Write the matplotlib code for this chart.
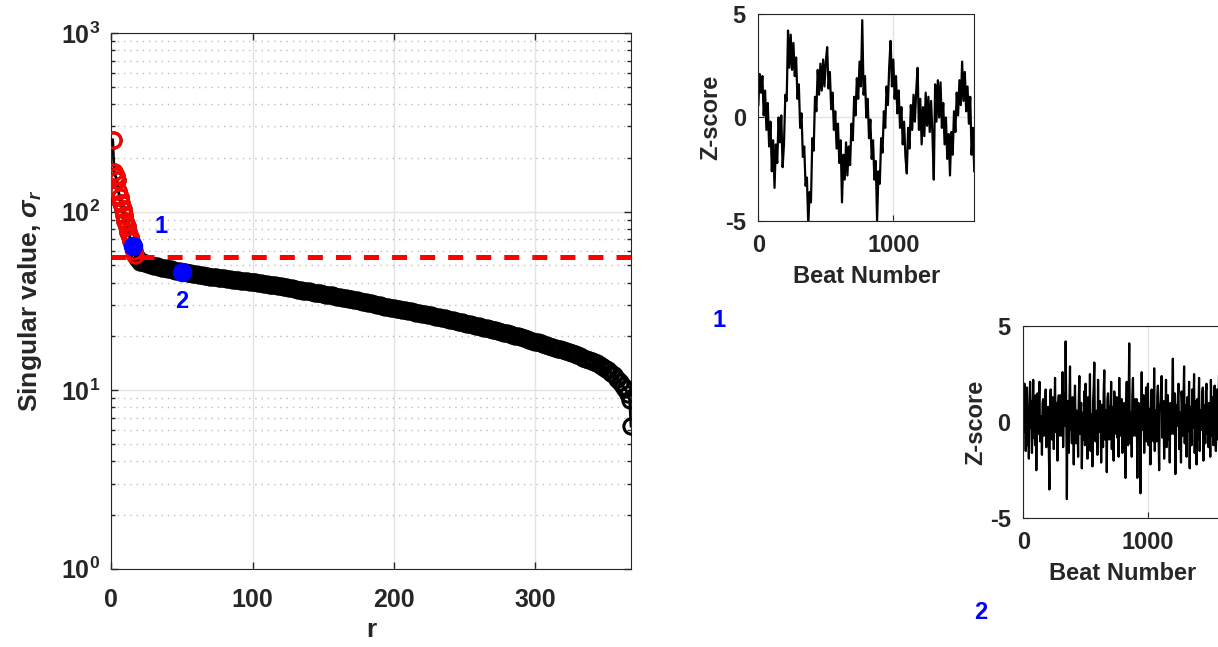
import numpy as np
import matplotlib
matplotlib.use("Agg")
from matplotlib import pyplot as plt
from matplotlib import ticker

# singular values
red_r = list(range(1, 18))
red_s = [252, 166, 158, 150, 130, 120, 111, 103, 96, 89, 83, 77, 72, 68, 64, 60, 57]

tail_r = [18, 19] + list(range(20, 367, 2)) + [367, 368]
tail_s = [55.2, 54.0,
    52.5, 51.9, 51.3, 50.8, 50.3, 49.8, 49.4, 49.0, 48.6, 48.2,
    47.8, 47.4, 47.0, 46.6, 46.3, 46.0, 45.7, 45.4, 45.1, 44.8,
    44.5, 44.2, 44.0, 43.7, 43.5, 43.2, 43.0, 42.8, 42.6, 42.4,
    42.2, 42.0, 41.8, 41.6, 41.4, 41.2, 41.0, 40.8, 40.7, 40.5,
    40.3, 40.1, 39.9, 39.7, 39.5, 39.2, 39.0, 38.8, 38.6, 38.3,
    38.1, 37.8, 37.6, 37.3, 37.1, 36.8, 36.6, 36.3, 36.1, 35.9,
    35.7, 35.4, 35.2, 35.0, 34.8, 34.5, 34.3, 34.1, 33.9, 33.6,
    33.4, 33.2, 33.0, 32.7, 32.5, 32.2, 32.0, 31.8, 31.6, 31.3,
    31.1, 30.8, 30.6, 30.3, 30.1, 29.9, 29.7, 29.4, 29.2, 29.0,
    28.8, 28.6, 28.4, 28.2, 28.0, 27.8, 27.6, 27.4, 27.2, 27.0,
    26.8, 26.6, 26.4, 26.2, 26.0, 25.8, 25.6, 25.4, 25.2, 25.0,
    24.8, 24.6, 24.4, 24.2, 24.0, 23.8, 23.6, 23.4, 23.2, 23.0,
    22.8, 22.6, 22.4, 22.2, 22.0, 21.8, 21.6, 21.4, 21.2, 21.0,
    20.8, 20.6, 20.4, 20.2, 20.0, 19.8, 19.6, 19.4, 19.2, 18.9,
    18.7, 18.5, 18.3, 18.1, 17.9, 17.7, 17.5, 17.3, 17.1, 16.9,
    16.7, 16.5, 16.3, 16.1, 15.9, 15.7, 15.5, 15.2, 15.0, 14.8,
    14.6, 14.4, 14.1, 13.8, 13.5, 13.2, 12.9, 12.5, 12.1, 11.6,
    11.1, 10.6, 10.1, 9.5,
    8.8, 6.3]
black_r = red_r + tail_r
black_s = red_s + tail_s
threshold = 55.6
picked_r = [15, 50]
picked_s = [64, 46]
picked_lbl = ["1", "2"]

# z-scored beat series for the two picked modes
mode1 = [0.6, 2.1, 1.2, 2.0, 0.1, 1.3, -0.6, 0.7, -1.4, -0.2,
         -2.6, -1.1, -3.4, -1.3, -2.2, 0.0, -1.2, 0.1, -2.4, -1.3,
         1.1, 0.8, 4.2, 2.4, 4.0, 2.3, 3.6, 2.0, 2.9, 0.9,
         1.6, -0.5, 0.2, -1.9, -1.4, -3.3, -2.9, -5.2, -3.6, -4.1,
         -1.0, -1.6, 1.0, 0.3, 2.3, 1.1, 2.6, 1.3, 2.8, 1.5,
         2.7, 3.4, 1.4, 2.2, 0.4, 1.2, -0.6, 0.3, -1.5, -0.3,
         -2.2, -1.1, -4.1, -1.8, -3.0, -1.2, -2.8, -1.4, -2.3, -0.3,
         -1.1, 1.0, 0.1, 1.9, 0.9, 2.7, 1.5, 4.7, 1.1, 2.0,
         0.0, 0.9, -1.0, -0.1, -2.0, -1.1, -3.0, -2.1, -5.0, -2.6,
         -3.2, -1.0, -1.7, 0.3, -0.5, 1.5, 0.6, 2.5, 3.7, 1.5,
         2.8, 0.9, 2.0, 0.2, 1.3, -0.5, 0.5, -1.3, -0.2, -1.9,
         -2.7, -0.5, -1.5, 0.6, -0.6, 1.1, -0.2, 1.3, 2.4, -0.6,
         0.9, -1.3, 0.5, -0.9, 1.2, -0.4, 1.0, -0.7, 0.8, -0.8,
         -3.0, 1.6, -0.2, 1.8, 0.0, 1.7, -0.5, 0.7, -1.3, 0.0,
         -2.0, -0.8, -2.8, -0.7, -1.8, 0.3, -0.7, 1.2, 0.1, 1.8,
         0.6, 2.7, 0.8, 2.2, 0.3, 1.5, -0.3, 1.0, -1.8, -0.5, -2.6]
mode1_step = 10
mode2 = [1.2, -0.5, 2.0, 0.3, -1.5, 0.8, 1.8, -1.2, 0.4, -1.9,
         0.9, 2.1, -0.3, 1.1, -1.6, 0.2, 2.2, -0.8, 0.6, -1.2,
         1.4, -2.5, 0.5, 1.5, -0.6, 0.9, 2.1, -1.0, -0.1, 0.3,
         -1.7, 1.0, 1.2, -0.7, -0.2, 0.6, 1.7, -1.3, 0.2, -0.9,
         0.8, -1.4, -3.5, 0.7, 1.7, -0.4, -0.9, 1.3, 0.8, -1.4,
         0.3, 2.3, -0.5, 1.0, 0.1, -2.0, 0.9, 1.4, -0.7, 0.5,
         1.4, -0.7, 0.3, 2.6, -1.3, 0.8, 1.5, -0.2, 4.2, 0.6,
         -4.0, 1.1, -0.6, -1.6, 0.9, 2.9, -0.4, 0.5, -1.1, 1.3,
         0.7, -2.2, 0.4, 1.9, -0.5, -1.1, 0.6, 0.2, -1.8, 1.0,
         2.4, -0.6, 0.3, 1.0, -2.4, 0.1, 0.5, -0.9, 1.6, -1.2,
         2.0, 0.4, -0.3, -1.9, 1.3, 0.7, -0.8, 2.5, -1.5, 0.2,
         0.4, -2.3, 1.1, 1.8, 3.1, -0.6, -1.0, 0.3, 0.6, -1.7,
         2.2, -0.2, -0.5, 1.1, 0.4, -2.1, 0.9, 0.1, -1.3, 1.5,
         2.7, -0.9, -0.2, 0.6, -2.6, 1.2, 1.5, -0.4, -0.9, 0.8,
         0.3, 2.1, -1.4, 0.2, 0.8, -2.0, 1.6, 0.5, -0.6, 1.2,
         1.3, -0.8, 0.5, -1.8, 2.3, -0.3, -0.7, 1.0, 1.2, -1.6,
         0.6, -1.4, 1.0, 0.3, -2.9, 0.8, 2.1, -0.6, -1.2, 0.9,
         4.1, -1.1, 0.2, 0.5, -1.8, 1.4, 2.3, -0.7, 0.1, 1.2,
         -0.7, 0.4, 1.2, -2.9, 0.6, 1.0, -0.4, 0.8, -3.7, 0.2,
         2.6, -0.4, 0.9, 1.4, -1.6, 0.3, 0.2, 1.8, -1.0, -0.5,
         2.0, -1.2, 0.3, 0.7, -2.2, 1.1, 1.7, -0.3, 0.2, -1.0,
         2.8, -1.5, 0.6, 0.4, -1.0, 1.3, 1.9, -0.6, -2.5, 0.9,
         0.6, 1.7, 2.4, -0.8, -0.2, 1.1, -1.9, 0.5, 0.3, 2.2,
         -1.3, 0.2, 1.4, -0.9, 0.7, -2.1, 1.0, 0.4, -0.6, 1.5,
         3.3, -0.6, -0.2, 1.5, -2.7, 0.4, 0.9, -0.2, 1.3, 2.0,
         -1.4, 0.5, 0.1, -2.1, 1.6, 0.8, -0.7, 1.0, 2.9, -1.1,
         0.2, 0.9, -1.8, 1.3, 0.4, -0.5, 2.1, -2.4, 0.7, 0.8,
         -1.2, 1.7, -0.3, 0.6, 2.5, -1.6, 0.4, 1.1, -2.2, 1.2,
         -0.9, 0.3, 2.3, -1.5, 0.6, -0.1, -0.4, 1.4, 1.8, -2.0,
         0.9, 0.2, -1.1, 1.6, 2.0, -0.6, 0.4, -1.3, 1.0, 0.3,
         -1.8, 2.2, 0.5, -0.7, 1.3, -1.2, 0.8, 1.9, -0.4, -1.5,
         0.6, 1.7, -0.9, 0.2, 2.4, -1.7, 0.7, 1.1, -0.8, 0.3,
         1.0]
mode2_step = 5

TXT = "#262626"
plt.rcParams["font.family"] = ["Liberation Sans", "DejaVu Sans"]
plt.rcParams["font.weight"] = "bold"
plt.rcParams["axes.labelweight"] = "bold"
plt.rcParams["axes.unicode_minus"] = False
plt.rcParams["mathtext.fontset"] = "custom"
plt.rcParams["mathtext.rm"] = "Liberation Sans:bold"
plt.rcParams["mathtext.bf"] = "Liberation Sans:bold"
plt.rcParams["mathtext.it"] = "Liberation Sans:italic"
plt.rcParams["lines.scale_dashes"] = False
plt.rcParams["text.color"] = TXT
plt.rcParams["axes.labelcolor"] = TXT
plt.rcParams["xtick.color"] = TXT
plt.rcParams["ytick.color"] = TXT

fig = plt.figure(figsize=(12.18, 6.47), dpi=100)

# main singular value spectrum
ax = fig.add_axes([0.0914, 0.121, 0.4267, 0.828])
ax.set_yscale("log")
ax.plot(black_r, black_s, "ko-", lw=2, ms=11, mfc="none", mew=2.2, zorder=3)
ax.plot(red_r, red_s, "o", color="red", ms=11, mfc="none", mew=2.2, zorder=4)
ax.axhline(threshold, color="red", lw=3.6, dashes=(10.8, 9.4), zorder=5)
ax.plot(picked_r, picked_s, "o", color="blue", ms=13, zorder=6)
ax.text(35, 82, picked_lbl[0], color="blue", fontsize=17, ha="center", va="center")
ax.text(50, 31.3, picked_lbl[1], color="blue", fontsize=17, ha="center", va="center")

ax.set_xlim(0, 368)
ax.set_ylim(1, 1000)
ax.set_xticks([0, 100, 200, 300])
ax.yaxis.set_major_locator(ticker.LogLocator(base=10))
ax.yaxis.set_major_formatter(ticker.FuncFormatter(lambda v, p: r"$\mathbf{10^{%d}}$" % round(np.log10(v))))
ax.yaxis.set_minor_locator(ticker.LogLocator(base=10, subs=np.arange(2, 10)))
ax.yaxis.set_minor_formatter(ticker.NullFormatter())
ax.grid(True, which="major", color="#e3e3e3", lw=1)
ax.grid(True, which="minor", axis="y", color="#bdbdbd", lw=1, ls=(0, (1, 3.5)))
ax.set_axisbelow(True)
ax.tick_params(which="both", direction="in", top=True, right=True, labelsize=18, width=1)
ax.tick_params(which="major", length=5)
ax.tick_params(which="minor", length=3)
ax.tick_params(axis="x", pad=14)
ax.tick_params(axis="y", pad=8)
for s in ax.spines.values():
    s.set_color(TXT)
ax.set_xlabel("r", fontsize=19, labelpad=4)
ax.set_ylabel(r"Singular value, $\sigma_r$", fontsize=19, labelpad=12)

# insets with the time series of the picked modes
def inset(rect, vals, step):
    a = fig.add_axes(rect)
    beats = np.arange(len(vals)) * step
    a.plot(beats, vals, color="black", lw=1.6)
    a.set_xlim(0, 1600)
    a.set_ylim(-5, 5)
    a.set_xticks([0, 1000])
    a.set_yticks([-5, 0, 5])
    a.grid(True, color="#e3e3e3", lw=1)
    a.set_axisbelow(True)
    a.tick_params(direction="in", labelsize=17, length=4, pad=9)
    for s in a.spines.values():
        s.set_color(TXT)
    a.set_xlabel("Beat Number", fontsize=17, labelpad=6)
    a.set_ylabel("Z-score", fontsize=17, labelpad=2)
    return a

inset([0.6226, 0.6584, 0.1773, 0.320], mode1, mode1_step)
inset([0.8401, 0.1989, 0.1638, 0.2972], mode2, mode2_step)
fig.text(0.590, 0.504, picked_lbl[0], color="blue", fontsize=17, ha="center", va="center")
fig.text(0.8054, 0.054, picked_lbl[1], color="blue", fontsize=17, ha="center", va="center")

fig.savefig("out.png", dpi=100)
